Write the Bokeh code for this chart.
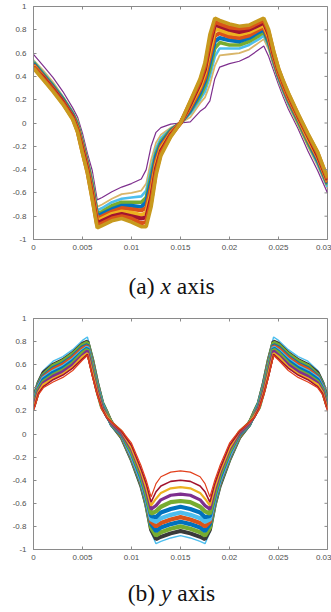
import numpy as np
from bokeh.plotting import figure
from bokeh.models import Range1d, FixedTicker, CustomJSTickFormatter, Div
from bokeh.layouts import column
from bokeh.embed import file_html
from bokeh.resources import INLINE

# ---------------- data ----------------
x_ticks = [0, 0.005, 0.01, 0.015, 0.02, 0.025, 0.03]
y_ticks = [-1, -0.8, -0.6, -0.4, -0.2, 0, 0.2, 0.4, 0.6, 0.8, 1]

caption_a = '(a) <i>x</i> axis'
caption_b = '(b) <i>y</i> axis'

# (a) x axis: time samples and curves (outer -> inner)
xa = [0, 0.001, 0.002, 0.003, 0.004, 0.0045, 0.005, 0.0055, 0.006, 0.0065,
      0.007, 0.008, 0.009, 0.010, 0.011, 0.0115, 0.012, 0.0125, 0.013, 0.014,
      0.015, 0.016, 0.017, 0.0175, 0.018, 0.0185, 0.019, 0.020, 0.021, 0.022,
      0.023, 0.0235, 0.024, 0.0245, 0.025, 0.0255, 0.026, 0.027, 0.028, 0.029, 0.030]
a_c0 = [0.47, 0.37, 0.27, 0.16, 0.03, -0.08, -0.26, -0.43, -0.66, -0.90, -0.88, -0.84, -0.82, -0.85, -0.89, -0.89, -0.72, -0.45, -0.28, -0.12, 0.0, 0.19, 0.38, 0.52, 0.76, 0.90, 0.88, 0.85, 0.83, 0.84, 0.88, 0.90, 0.80, 0.62, 0.47, 0.36, 0.26, 0.08, -0.09, -0.25, -0.47]
a_c1 = [0.48, 0.38, 0.28, 0.17, 0.04, -0.07, -0.25, -0.42, -0.64, -0.88, -0.86, -0.82, -0.80, -0.82, -0.86, -0.85, -0.68, -0.42, -0.26, -0.11, 0.0, 0.18, 0.36, 0.49, 0.71, 0.87, 0.85, 0.82, 0.81, 0.82, 0.86, 0.88, 0.78, 0.61, 0.46, 0.35, 0.25, 0.07, -0.10, -0.26, -0.48]
a_c2 = [0.48, 0.39, 0.29, 0.18, 0.05, -0.06, -0.23, -0.40, -0.62, -0.86, -0.84, -0.80, -0.78, -0.80, -0.82, -0.81, -0.64, -0.39, -0.24, -0.10, 0.0, 0.16, 0.34, 0.46, 0.67, 0.84, 0.83, 0.80, 0.78, 0.80, 0.84, 0.86, 0.76, 0.59, 0.45, 0.34, 0.24, 0.06, -0.11, -0.28, -0.49]
a_c3 = [0.49, 0.39, 0.29, 0.18, 0.05, -0.05, -0.22, -0.39, -0.60, -0.84, -0.82, -0.78, -0.76, -0.77, -0.79, -0.77, -0.60, -0.36, -0.22, -0.09, 0.0, 0.15, 0.31, 0.43, 0.62, 0.80, 0.80, 0.77, 0.76, 0.78, 0.82, 0.84, 0.74, 0.58, 0.44, 0.33, 0.23, 0.05, -0.13, -0.29, -0.50]
a_c4 = [0.50, 0.40, 0.30, 0.19, 0.06, -0.04, -0.20, -0.37, -0.58, -0.82, -0.80, -0.76, -0.73, -0.74, -0.75, -0.73, -0.55, -0.33, -0.20, -0.08, 0.0, 0.13, 0.29, 0.39, 0.57, 0.75, 0.77, 0.74, 0.73, 0.75, 0.80, 0.82, 0.72, 0.56, 0.42, 0.31, 0.21, 0.04, -0.14, -0.30, -0.51]
a_c5 = [0.51, 0.41, 0.31, 0.20, 0.07, -0.03, -0.19, -0.36, -0.56, -0.80, -0.78, -0.74, -0.71, -0.71, -0.72, -0.68, -0.50, -0.29, -0.18, -0.07, 0.0, 0.11, 0.26, 0.36, 0.52, 0.70, 0.73, 0.71, 0.70, 0.73, 0.78, 0.80, 0.70, 0.55, 0.41, 0.30, 0.20, 0.03, -0.15, -0.32, -0.52]
a_c6 = [0.52, 0.42, 0.32, 0.21, 0.08, -0.01, -0.17, -0.34, -0.53, -0.78, -0.76, -0.71, -0.68, -0.68, -0.68, -0.64, -0.45, -0.26, -0.16, -0.06, 0.0, 0.10, 0.23, 0.32, 0.46, 0.64, 0.69, 0.67, 0.67, 0.70, 0.75, 0.78, 0.68, 0.53, 0.40, 0.29, 0.19, 0.01, -0.17, -0.33, -0.53]
a_c7 = [0.53, 0.43, 0.33, 0.22, 0.09, 0.00, -0.15, -0.32, -0.50, -0.75, -0.73, -0.68, -0.65, -0.64, -0.63, -0.58, -0.39, -0.22, -0.13, -0.05, 0.0, 0.08, 0.20, 0.27, 0.40, 0.57, 0.64, 0.64, 0.64, 0.67, 0.72, 0.75, 0.66, 0.51, 0.38, 0.27, 0.17, 0.00, -0.18, -0.35, -0.55]
a_c8 = [0.54, 0.45, 0.35, 0.23, 0.10, 0.02, -0.13, -0.30, -0.47, -0.72, -0.70, -0.65, -0.61, -0.60, -0.58, -0.52, -0.32, -0.17, -0.10, -0.04, 0.0, 0.05, 0.17, 0.22, 0.33, 0.49, 0.58, 0.59, 0.60, 0.63, 0.69, 0.72, 0.63, 0.49, 0.36, 0.25, 0.15, -0.02, -0.20, -0.37, -0.56]
a_c9 = [0.59, 0.49, 0.39, 0.27, 0.13, 0.05, -0.09, -0.26, -0.41, -0.66, -0.64, -0.59, -0.55, -0.52, -0.48, -0.40, -0.20, -0.08, -0.04, -0.01, 0.0, 0.01, 0.10, 0.13, 0.19, 0.38, 0.48, 0.51, 0.53, 0.57, 0.63, 0.66, 0.57, 0.45, 0.33, 0.22, 0.12, -0.05, -0.24, -0.41, -0.60]

# (b) y axis
xb = [0, 0.0005, 0.001, 0.002, 0.003, 0.004, 0.005, 0.0055, 0.006, 0.0065,
      0.007, 0.0075, 0.008, 0.009, 0.010, 0.011, 0.0115, 0.012, 0.0125, 0.013,
      0.014, 0.015, 0.016, 0.017, 0.0175, 0.018, 0.0185, 0.019, 0.020, 0.021,
      0.022, 0.0225, 0.023, 0.0235, 0.024, 0.0245, 0.025, 0.026, 0.027, 0.028,
      0.029, 0.0295, 0.030]
b_c0 = [0.20, 0.34, 0.40, 0.45, 0.49, 0.55, 0.64, 0.68, 0.50, 0.34, 0.21, 0.14, 0.10, 0.03, -0.08, -0.28, -0.40, -0.545, -0.43, -0.37, -0.33, -0.32, -0.33, -0.37, -0.43, -0.545, -0.40, -0.28, -0.08, 0.03, 0.10, 0.14, 0.21, 0.34, 0.50, 0.68, 0.64, 0.55, 0.49, 0.45, 0.40, 0.34, 0.20]
b_c1 = [0.21, 0.35, 0.41, 0.47, 0.51, 0.57, 0.65, 0.69, 0.51, 0.35, 0.22, 0.14, 0.10, 0.02, -0.10, -0.31, -0.43, -0.59, -0.50, -0.45, -0.41, -0.40, -0.41, -0.45, -0.50, -0.59, -0.43, -0.31, -0.10, 0.02, 0.10, 0.14, 0.22, 0.35, 0.51, 0.69, 0.65, 0.57, 0.51, 0.47, 0.41, 0.35, 0.21]
b_c2 = [0.22, 0.36, 0.43, 0.48, 0.52, 0.58, 0.67, 0.70, 0.53, 0.36, 0.22, 0.15, 0.10, 0.02, -0.12, -0.33, -0.46, -0.62, -0.56, -0.51, -0.47, -0.46, -0.47, -0.51, -0.56, -0.62, -0.46, -0.33, -0.12, 0.02, 0.10, 0.15, 0.22, 0.36, 0.53, 0.70, 0.67, 0.58, 0.52, 0.48, 0.43, 0.36, 0.22]
b_c3 = [0.23, 0.37, 0.44, 0.50, 0.54, 0.60, 0.68, 0.72, 0.54, 0.37, 0.23, 0.15, 0.09, 0.01, -0.13, -0.34, -0.48, -0.65, -0.62, -0.57, -0.53, -0.52, -0.53, -0.57, -0.62, -0.65, -0.48, -0.34, -0.13, 0.01, 0.09, 0.15, 0.23, 0.37, 0.54, 0.72, 0.68, 0.60, 0.54, 0.50, 0.44, 0.37, 0.23]
b_c4 = [0.24, 0.38, 0.45, 0.51, 0.55, 0.61, 0.70, 0.73, 0.56, 0.38, 0.23, 0.16, 0.09, 0.01, -0.15, -0.36, -0.51, -0.69, -0.67, -0.63, -0.59, -0.58, -0.59, -0.63, -0.67, -0.69, -0.51, -0.36, -0.15, 0.01, 0.09, 0.16, 0.23, 0.38, 0.56, 0.73, 0.70, 0.61, 0.55, 0.51, 0.45, 0.38, 0.24]
b_c5 = [0.25, 0.39, 0.47, 0.53, 0.57, 0.63, 0.71, 0.74, 0.57, 0.39, 0.24, 0.16, 0.09, 0.00, -0.16, -0.38, -0.53, -0.71, -0.72, -0.68, -0.65, -0.63, -0.65, -0.68, -0.72, -0.71, -0.53, -0.38, -0.16, 0.00, 0.09, 0.16, 0.24, 0.39, 0.57, 0.74, 0.71, 0.63, 0.57, 0.53, 0.47, 0.39, 0.25]
b_c6 = [0.26, 0.40, 0.48, 0.54, 0.58, 0.64, 0.72, 0.75, 0.58, 0.40, 0.25, 0.16, 0.09, 0.00, -0.18, -0.40, -0.55, -0.74, -0.76, -0.73, -0.70, -0.68, -0.70, -0.73, -0.76, -0.74, -0.55, -0.40, -0.18, 0.00, 0.09, 0.16, 0.25, 0.40, 0.58, 0.75, 0.72, 0.64, 0.58, 0.54, 0.48, 0.40, 0.26]
b_c7 = [0.27, 0.41, 0.49, 0.56, 0.60, 0.66, 0.74, 0.76, 0.60, 0.41, 0.25, 0.17, 0.09, -0.01, -0.19, -0.41, -0.56, -0.76, -0.80, -0.77, -0.74, -0.72, -0.74, -0.77, -0.80, -0.76, -0.56, -0.41, -0.19, -0.01, 0.09, 0.17, 0.25, 0.41, 0.60, 0.76, 0.74, 0.66, 0.60, 0.56, 0.49, 0.41, 0.27]
b_c8 = [0.28, 0.42, 0.50, 0.57, 0.61, 0.67, 0.75, 0.77, 0.61, 0.42, 0.26, 0.17, 0.08, -0.01, -0.20, -0.42, -0.58, -0.78, -0.84, -0.81, -0.78, -0.76, -0.78, -0.81, -0.84, -0.78, -0.58, -0.42, -0.20, -0.01, 0.08, 0.17, 0.26, 0.42, 0.61, 0.77, 0.75, 0.67, 0.61, 0.57, 0.50, 0.42, 0.28]
b_c9 = [0.29, 0.43, 0.51, 0.59, 0.63, 0.69, 0.77, 0.79, 0.63, 0.43, 0.27, 0.18, 0.08, -0.02, -0.21, -0.43, -0.60, -0.81, -0.88, -0.85, -0.82, -0.80, -0.82, -0.85, -0.88, -0.81, -0.60, -0.43, -0.21, -0.02, 0.08, 0.18, 0.27, 0.43, 0.63, 0.79, 0.77, 0.69, 0.63, 0.59, 0.51, 0.43, 0.29]
b_c10 = [0.30, 0.44, 0.53, 0.60, 0.64, 0.70, 0.78, 0.80, 0.64, 0.44, 0.27, 0.18, 0.08, -0.03, -0.22, -0.45, -0.61, -0.83, -0.91, -0.89, -0.86, -0.84, -0.86, -0.89, -0.91, -0.83, -0.61, -0.45, -0.22, -0.03, 0.08, 0.18, 0.27, 0.44, 0.64, 0.80, 0.78, 0.70, 0.64, 0.60, 0.53, 0.44, 0.30]
b_c11 = [0.31, 0.46, 0.55, 0.63, 0.67, 0.73, 0.81, 0.84, 0.67, 0.46, 0.28, 0.18, 0.08, -0.04, -0.23, -0.46, -0.63, -0.85, -0.95, -0.93, -0.90, -0.88, -0.90, -0.93, -0.95, -0.85, -0.63, -0.46, -0.23, -0.04, 0.08, 0.18, 0.28, 0.46, 0.67, 0.84, 0.81, 0.73, 0.67, 0.63, 0.55, 0.46, 0.31]

# ---------------- styling ----------------
BLUE, ORANGE, YELLOW, PURPLE = "#0072BD", "#D95319", "#EDB120", "#7E2F8E"
GREEN, CYAN, RED, DARK = "#77AC30", "#4DBEEE", "#A2142F", "#3a3a3a"
AX = "#8a8a8a"
LBL = "#505050"

a_curves = [a_c0, a_c1, a_c2, a_c3, a_c4, a_c5, a_c6, a_c7, a_c8, a_c9]
a_colors = ["#c89a1e", ORANGE, RED, YELLOW, ORANGE, BLUE, GREEN, CYAN, "#d9b66a", PURPLE]
a_widths = [3.6, 4.0, 4.0, 4.0, 4.0, 4.0, 3.6, 2.6, 1.8, 1.2]

b_curves = [b_c0, b_c1, b_c2, b_c3, b_c4, b_c5, b_c6, b_c7, b_c8, b_c9, b_c10, b_c11]
b_colors = ["#e2401c", RED, YELLOW, PURPLE, GREEN, BLUE, CYAN, ORANGE, BLUE, GREEN, DARK, CYAN]
b_widths = [1.2, 1.6, 2.2, 3.2, 4.2, 4.2, 4.2, 4.2, 4.2, 4.2, 4.0, 1.4]

for c in a_curves:
    assert len(c) == len(xa)
for c in b_curves:
    assert len(c) == len(xb)

fmt = CustomJSTickFormatter(code="return String(Math.round(tick * 100000) / 100000);")

W = 331          # layout width (px) = window width


def make_fig(xs, curves, colors, widths, frame_h, top):
    p = figure(frame_width=294, frame_height=frame_h,
               x_range=Range1d(0, 0.03), y_range=Range1d(-1, 1),
               output_backend="svg", toolbar_location=None,
               min_border_left=33, min_border_right=4,
               min_border_top=top, min_border_bottom=20,
               background_fill_color="white", border_fill_color="white")
    p.grid.visible = False
    p.outline_line_color = AX
    p.outline_line_width = 1

    for i in range(len(curves) - 1, -1, -1):
        p.line(xs, curves[i], line_color=colors[i], line_width=widths[i])

    xax = p.xaxis[0]
    yax = p.yaxis[0]
    xax.ticker = FixedTicker(ticks=x_ticks)
    yax.ticker = FixedTicker(ticks=y_ticks)
    for ax in (xax, yax):
        ax.formatter = fmt
        ax.axis_line_color = AX
        ax.major_tick_line_color = AX
        ax.major_tick_in = 3
        ax.major_tick_out = 0
        ax.minor_tick_line_color = None
        ax.major_label_text_font = "Liberation Sans"
        ax.major_label_text_font_size = "8px"
        ax.major_label_text_color = LBL
    xax.major_label_standoff = 5
    yax.major_label_standoff = 7

    # inward tick marks on the top and right edges of the box
    p.scatter(x_ticks, [1] * len(x_ticks), marker="dash", size=6, angle=np.pi / 2,
              line_color=AX, line_width=1)
    p.scatter([0.03] * len(y_ticks), y_ticks, marker="dash", size=6,
              line_color=AX, line_width=1)
    return p


def caption(html, h, pad_top):
    style = ("font-family:'Liberation Serif','Times New Roman',Times,'Nimbus Roman',serif;"
             "font-size:23.5px;line-height:23.5px;color:#111;text-align:center;"
             "width:%dpx;padding-top:%dpx;padding-left:12px;box-sizing:border-box;"
             "white-space:nowrap;" % (W, pad_top))
    return Div(text='<div style="%s">%s</div>' % (style, html),
               width=W, height=h, margin=0)


p1 = make_fig(xa, a_curves, a_colors, a_widths, 233, 6)     # 0..259
cap1 = caption(caption_a, 55, 16)                             # 259..314
p2 = make_fig(xb, b_curves, b_colors, b_widths, 231, 4)     # 314..569
cap2 = caption(caption_b, 42, 13)                             # 569..611

layout = column(p1, cap1, p2, cap2, spacing=0)

open("out.html", "w").write(file_html(layout, INLINE))
